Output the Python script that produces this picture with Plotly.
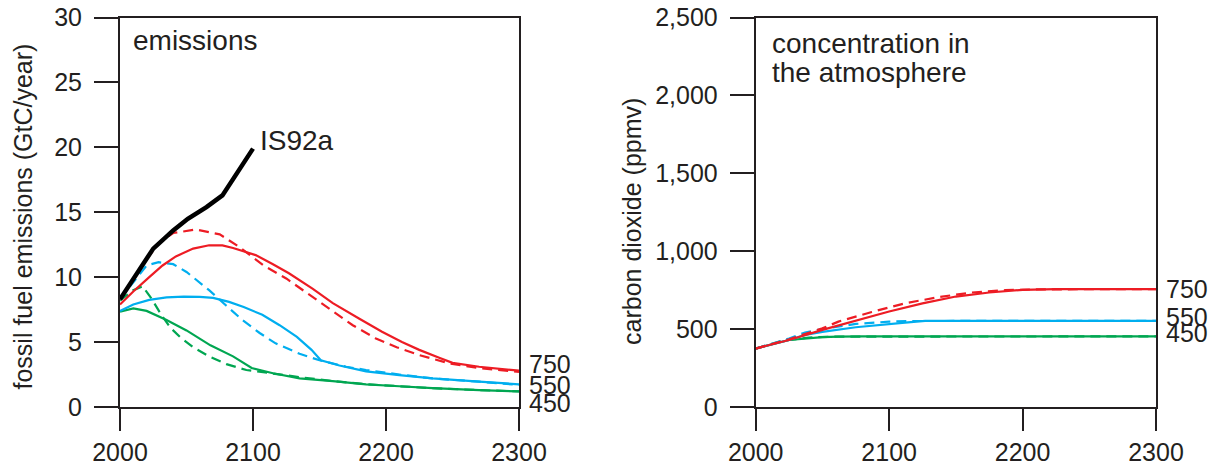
import plotly.graph_objects as go

# ---------------- data: emissions (GtC/year) ----------------
is92a_years = [2000, 2010, 2025, 2040, 2051, 2065, 2077, 2100]
is92a_vals = [8.3, 9.9, 12.2, 13.6, 14.5, 15.4, 16.3, 19.9]

e750_dash_years = [2000, 2010, 2020, 2030, 2040, 2057, 2075, 2090, 2108, 2125, 2140, 2160, 2175, 2192, 2208, 2225, 2248, 2270, 2300]
e750_dash_vals = [8.3, 9.9, 11.4, 12.7, 13.4, 13.67, 13.3, 12.3, 10.9, 9.9, 8.8, 7.35, 6.3, 5.3, 4.6, 4.0, 3.35, 3.0, 2.7]

e750_solid_years = [2000, 2010, 2022, 2032, 2042, 2055, 2067, 2077, 2085, 2102, 2115, 2127, 2145, 2160, 2180, 2197, 2212, 2225, 2240, 2250, 2270, 2300]
e750_solid_vals = [7.9, 8.9, 10.0, 10.9, 11.6, 12.2, 12.46, 12.45, 12.25, 11.7, 11.0, 10.3, 9.1, 8.0, 6.8, 5.8, 5.0, 4.4, 3.8, 3.4, 3.1, 2.8]

e550_dash_years = [2000, 2010, 2020, 2029, 2040, 2050, 2067, 2080, 2092, 2105, 2117, 2135, 2150, 2170, 2185, 2210, 2235, 2270, 2300]
e550_dash_vals = [8.3, 9.6, 10.9, 11.15, 11.0, 10.4, 9.0, 7.8, 6.7, 5.7, 4.9, 4.1, 3.6, 3.1, 2.85, 2.5, 2.2, 1.95, 1.7]

e550_solid_years = [2000, 2010, 2022, 2035, 2048, 2060, 2070, 2082, 2093, 2107, 2120, 2133, 2144, 2151, 2165, 2185, 2210, 2235, 2270, 2300]
e550_solid_vals = [7.4, 7.9, 8.25, 8.45, 8.5, 8.48, 8.4, 8.1, 7.7, 7.1, 6.3, 5.4, 4.4, 3.6, 3.2, 2.75, 2.45, 2.2, 1.95, 1.75]

e450_dash_years = [2000, 2010, 2017, 2024, 2031, 2038, 2045, 2055, 2067, 2080, 2095, 2115, 2135, 2160, 2185, 2210, 2235, 2270, 2300]
e450_dash_vals = [8.2, 9.0, 9.3, 8.3, 7.1, 6.1, 5.4, 4.6, 3.9, 3.3, 2.85, 2.55, 2.3, 2.0, 1.75, 1.6, 1.45, 1.3, 1.2]

e450_solid_years = [2000, 2010, 2020, 2035, 2050, 2068, 2085, 2099, 2115, 2135, 2160, 2185, 2210, 2235, 2270, 2300]
e450_solid_vals = [7.35, 7.6, 7.4, 6.7, 5.9, 4.75, 3.9, 3.0, 2.6, 2.2, 2.0, 1.75, 1.6, 1.45, 1.3, 1.2]

# ---------------- data: concentration (ppmv) ----------------
c750_solid_years = [2000, 2025, 2050, 2075, 2100, 2125, 2150, 2175, 2200, 2225, 2300]
c750_solid_vals = [375, 430, 495, 555, 613, 665, 709, 735, 752, 757, 757]
c750_dash_years = [2000, 2025, 2050, 2062, 2087, 2112, 2137, 2162, 2187, 2210, 2300]
c750_dash_vals = [375, 435, 505, 548, 610, 666, 705, 735, 750, 755, 757]

c550_solid_years = [2000, 2025, 2037, 2050, 2075, 2100, 2112, 2127, 2150, 2300]
c550_solid_vals = [375, 430, 463, 482, 512, 535, 542, 553, 553, 553]
c550_dash_years = [2000, 2025, 2037, 2050, 2075, 2100, 2120, 2300]
c550_dash_vals = [375, 440, 478, 500, 533, 548, 552, 553]

c450_solid_years = [2000, 2025, 2050, 2062, 2080, 2300]
c450_solid_vals = [375, 430, 448, 452, 453, 453]
c450_dash_years = [2000, 2020, 2040, 2060, 2300]
c450_dash_vals = [375, 425, 446, 452, 453]

# ---------------- labels ----------------
scenario_labels = ["750", "550", "450"]
x_ticks = [2000, 2100, 2200, 2300]
y_ticks_left = [0, 5, 10, 15, 20, 25, 30]
y_ticks_right = [0, 500, 1000, 1500, 2000, 2500]
y_tick_text_right = ["0", "500", "1,000", "1,500", "2,000", "2,500"]

RED = "#ED1C24"
BLUE = "#00AEEF"
GREEN = "#00A651"
INK = "#231F20"
FONT = "Liberation Sans, Arial, Helvetica, sans-serif"
DASH = "10px,6px"

fig = go.Figure()


def add(x, y, color, dash, xa, ya, width=2.2):
    fig.add_trace(go.Scatter(x=x, y=y, mode="lines", xaxis=xa, yaxis=ya,
                             line=dict(color=color, width=width, dash=dash),
                             showlegend=False, hoverinfo="skip"))


# left panel
add(e450_dash_years, e450_dash_vals, GREEN, DASH, "x", "y")
add(e450_solid_years, e450_solid_vals, GREEN, "solid", "x", "y")
add(e550_dash_years, e550_dash_vals, BLUE, DASH, "x", "y")
add(e550_solid_years, e550_solid_vals, BLUE, "solid", "x", "y")
add(e750_dash_years, e750_dash_vals, RED, DASH, "x", "y")
add(e750_solid_years, e750_solid_vals, RED, "solid", "x", "y")
add(is92a_years, is92a_vals, "#000000", "solid", "x", "y", width=4.5)

# right panel
add(c450_dash_years, c450_dash_vals, GREEN, DASH, "x2", "y2")
add(c450_solid_years, c450_solid_vals, GREEN, "solid", "x2", "y2")
add(c550_dash_years, c550_dash_vals, BLUE, DASH, "x2", "y2")
add(c550_solid_years, c550_solid_vals, BLUE, "solid", "x2", "y2")
add(c750_dash_years, c750_dash_vals, RED, DASH, "x2", "y2")
add(c750_solid_years, c750_solid_vals, RED, "solid", "x2", "y2")

TICKFONT = dict(family=FONT, size=25, color=INK)
common_x = dict(range=[2000, 2300], tickvals=x_ticks, ticks="outside", ticklen=22,
                tickwidth=2, tickcolor=INK, showline=True, linewidth=2, linecolor=INK,
                mirror=True, showgrid=False, zeroline=False, tickfont=TICKFONT,
                automargin=False, ticklabelstandoff=0)
common_y = dict(ticks="outside", ticklen=24, tickwidth=2, tickcolor=INK, showline=True,
                linewidth=2, linecolor=INK, mirror=True, showgrid=False, zeroline=False,
                tickfont=TICKFONT, automargin=False, ticklabelstandoff=7)

ydom = [1 - 407 / 468, 1 - 17.5 / 468]
fig.update_layout(
    width=1216, height=468,
    margin=dict(l=0, r=0, t=0, b=0),
    paper_bgcolor="white", plot_bgcolor="white",
    font=dict(family=FONT, color=INK),
    xaxis=dict(domain=[120 / 1216, 519 / 1216], anchor="y", **common_x),
    yaxis=dict(domain=ydom, anchor="x", range=[0, 30], tickvals=y_ticks_left, **common_y),
    xaxis2=dict(domain=[755.7 / 1216, 1156 / 1216], anchor="y2", **common_x),
    yaxis2=dict(domain=ydom, anchor="x2", range=[0, 2500], tickvals=y_ticks_right,
                ticktext=y_tick_text_right, **common_y),
)

ann = []
# axis titles
ann.append(dict(text="fossil fuel emissions (GtC/year)", xref="paper", yref="paper",
                x=22.5 / 1216, y=1 - 217 / 468, textangle=-90, showarrow=False,
                xanchor="center", yanchor="middle", font=dict(size=25, family=FONT, color=INK)))
ann.append(dict(text="carbon dioxide (ppmv)", xref="paper", yref="paper",
                x=632 / 1216, y=1 - 222 / 468, textangle=-90, showarrow=False,
                xanchor="center", yanchor="middle", font=dict(size=25, family=FONT, color=INK)))
# panel titles
ann.append(dict(text="emissions", xref="paper", yref="paper", x=131 / 1216, y=1 - 40 / 468,
                showarrow=False, xanchor="left", yanchor="middle",
                font=dict(size=28, family=FONT, color=INK)))
ann.append(dict(text="concentration in", xref="paper", yref="paper", x=770 / 1216, y=1 - 43.5 / 468,
                showarrow=False, xanchor="left", yanchor="middle",
                font=dict(size=28, family=FONT, color=INK)))
ann.append(dict(text="the atmosphere", xref="paper", yref="paper", x=770 / 1216, y=1 - 72 / 468,
                showarrow=False, xanchor="left", yanchor="middle",
                font=dict(size=28, family=FONT, color=INK)))
ann.append(dict(text="IS92a", xref="x", yref="y", x=2104, y=20.5, showarrow=False,
                xanchor="left", yanchor="middle", font=dict(size=28, family=FONT, color=INK)))

label_y_left = [3.3, 1.69, 0.3]
label_y_right = [760, 579, 473]
for lab, yl, yr in zip(scenario_labels, label_y_left, label_y_right):
    ann.append(dict(text=lab, xref="x", yref="y", x=2300, y=yl, xanchor="left", yanchor="middle",
                    xshift=8, showarrow=False, font=dict(size=25, family=FONT, color=INK)))
    ann.append(dict(text=lab, xref="x2", yref="y2", x=2300, y=yr, xanchor="left", yanchor="middle",
                    xshift=8, showarrow=False, font=dict(size=25, family=FONT, color=INK)))

fig.update_layout(annotations=ann)
fig.write_html("out.html", config={"displayModeBar": False},
               post_script="document.body.style.margin='0';document.body.style.overflow='hidden';")
